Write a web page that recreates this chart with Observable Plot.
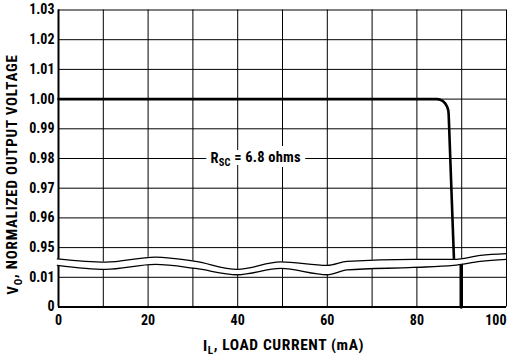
<!DOCTYPE html>
<html>
<head>
<meta charset="utf-8">
<script src="https://cdn.jsdelivr.net/npm/d3@7"></script>
<script src="https://cdn.jsdelivr.net/npm/@observablehq/plot@0.6"></script>
<style>
  html, body { margin: 0; padding: 0; background: white; }
</style>
</head>
<body>
<div id="chart"></div>
<script>
// ---- data ----
// main curve: load current (mA) vs normalized output voltage (upper part of broken axis)
const loadCurrent   = [0, 84.5, 85.17, 85.80, 86.33, 86.74, 87.00, 87.09, 88.3];
const outputVoltage = [1.000, 1.000, 0.99983, 0.99932, 0.99852, 0.99747, 0.99625, 0.99494, 0.9450];
// current-limit drop to zero (lower part of broken axis)
const limitCurrent = [89.9, 89.9];
const limitVoltage = [0.0145, 0];

// y axis ticks (broken axis)
const yTickValues = [0, 0.01, 0.95, 0.96, 0.97, 0.98, 0.99, 1.00, 1.01, 1.02, 1.03];
const yTickLabels = ["0", "0.01", "0.95", "0.96", "0.97", "0.98", "0.99", "1.00", "1.01", "1.02", "1.03"];
// x grid / ticks
const xGrid = [0, 10, 20, 30, 40, 50, 60, 70, 80, 90, 100];
const xTickValues = [0, 20, 40, 60, 80, 100];

// axis-break wavy band (x in mA, y in axis position units)
const breakX      = [-0.25, 10.5, 21.6, 30.6, 39.9, 49.6, 60, 64.4, 79.2, 88.2, 94.2, 100];
const breakTop    = [1.619, 1.511, 1.680, 1.535, 1.265, 1.518, 1.400, 1.535, 1.602, 1.602, 1.737, 1.794];
const breakBottom = [1.400, 1.265, 1.433, 1.298, 1.086, 1.298, 1.086, 1.248, 1.332, 1.400, 1.535, 1.602];

// annotation
const annotText = ["R_SC = 6.8 ohms"];
const annotX = [44.0];
const annotV = [0.98];

const xTitle = "I_L, LOAD CURRENT (mA)";
const yTitle = "V_O, NORMALIZED OUTPUT VOLTAGE";

// ---- broken-axis mapping: value -> axis position ----
function yPos(v) { return v < 0.5 ? v / 0.01 : 2 + (v - 0.95) / 0.01; }

const curve = loadCurrent.map((x, i) => ({x, v: outputVoltage[i]}));
const limit = limitCurrent.map((x, i) => ({x, v: limitVoltage[i]}));
const band = breakX.map((x, i) => ({x, top: breakTop[i], bottom: breakBottom[i]}));
const annot = annotText.map((t, i) => ({t, x: annotX[i], v: annotV[i]}));
const yTickPos = yTickValues.map(yPos);

const FONT = "'Liberation Sans Narrow', 'Roboto Condensed', 'DejaVu Sans Condensed', 'Arial Narrow', sans-serif";

const chart = Plot.plot({
  width: 507,
  height: 358,
  marginLeft: 58,
  marginRight: 1,
  marginTop: 9.5,
  marginBottom: 51.5,
  x: {domain: [0, 100]},
  y: {domain: [0, 10]},
  style: {fontFamily: FONT, fontSize: "14px", fontWeight: "bold", color: "black", background: "white"},
  marks: [
    Plot.ruleX(xGrid, {stroke: "black", strokeWidth: 1}),
    Plot.ruleY(yTickValues, {y: d => yPos(d), stroke: "black", strokeWidth: 1}),
    Plot.ruleX([0], {stroke: "black", strokeWidth: 2}),
    Plot.ruleY([0], {stroke: "black", strokeWidth: 2}),
    Plot.line(curve, {x: "x", y: d => yPos(d.v), stroke: "black", strokeWidth: 2.6, strokeLinejoin: "round"}),
    Plot.line(limit, {x: "x", y: d => yPos(d.v), stroke: "black", strokeWidth: 3.5}),
    Plot.areaY(band, {x: "x", y1: "bottom", y2: "top", fill: "white", curve: "monotone-x"}),
    Plot.line(band, {x: "x", y: "top", stroke: "black", strokeWidth: 1.3, curve: "monotone-x"}),
    Plot.line(band, {x: "x", y: "bottom", stroke: "black", strokeWidth: 1.3, curve: "monotone-x"}),
    // white backing for the annotation, then the annotation itself
    Plot.text(annot, {x: "x", y: d => yPos(d.v), text: "t", fill: "white", stroke: "white", strokeWidth: 10,
      strokeLinejoin: "miter", fontSize: 14.5, fontWeight: "bold", fontFamily: FONT}),
    Plot.text(annot, {x: "x", y: d => yPos(d.v), text: "t", fill: "black",
      fontSize: 14.5, fontWeight: "bold", fontFamily: FONT}),
    Plot.axisY(yTickPos, {tickSize: 0, tickPadding: 4, label: null,
      tickFormat: d => yTickLabels[Math.round(d)]}),
    Plot.axisX(xTickValues.slice(0, -1), {tickSize: 0, tickPadding: 8, label: null}),
    Plot.axisX(xTickValues.slice(-1), {tickSize: 0, tickPadding: 8, label: null, textAnchor: "end"}),
    Plot.text([yTitle], {frameAnchor: "left", textAnchor: "middle", rotate: -90, dx: -45, dy: 16, fontSize: 15,
      fontWeight: "bold", fontFamily: FONT, fill: "black"}),
    Plot.text([xTitle], {frameAnchor: "bottom", textAnchor: "middle", dy: 44, dx: 1, fontSize: 15.5,
      fontWeight: "bold", fontFamily: FONT, fill: "black"})
  ]
});

// rewrite "X_Y rest" strings into real subscripts
function subscriptize(svg, full, base, sub, rest, spacing) {
  d3.select(svg).selectAll("text").filter(function() { return this.textContent === full; })
    .each(function() {
      const t = d3.select(this);
      t.text(null);
      if (spacing) t.attr("letter-spacing", spacing);
      t.append("tspan").text(base);
      t.append("tspan").attr("dy", "0.3em").attr("font-size", "72%").text(sub);
      t.append("tspan").attr("dy", "-0.3em").text(rest);
    });
}
subscriptize(chart, annotText[0], "R", "SC", " = 6.8 ohms", "0.2px");
subscriptize(chart, xTitle, "I", "L", ", LOAD CURRENT (mA)", "0.6px");
subscriptize(chart, yTitle, "V", "O", ", NORMALIZED OUTPUT VOLTAGE", "0.8px");

document.getElementById("chart").appendChild(chart);
</script>
</body>
</html>
